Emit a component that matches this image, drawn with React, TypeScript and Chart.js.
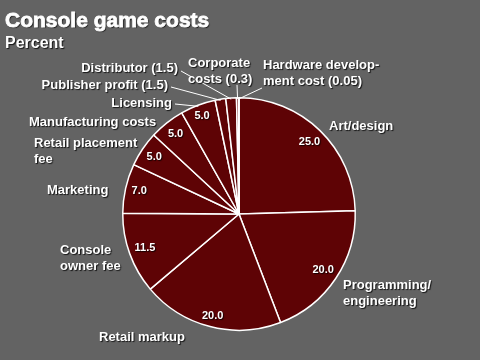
import React, { useEffect, useRef } from 'react';
import { Chart, registerables } from 'chart.js';

Chart.register(...registerables);

const chartTitle = 'Console game costs';
const chartSubtitle = 'Percent';

const categories = [
  'Art/design',
  'Programming/engineering',
  'Retail markup',
  'Console owner fee',
  'Marketing',
  'Retail placement fee',
  'Manufacturing costs',
  'Licensing',
  'Publisher profit',
  'Distributor',
  'Corporate costs',
  'Hardware development cost',
];

const values = [25, 20, 20, 11.5, 7, 5, 5, 5, 1.5, 1.5, 0.3, 0.05];

const valueLabels = ['25.0', '20.0', '20.0', '11.5', '7.0', '5.0', '5.0', '5.0', '', '', '', ''];

const outsideLabels: string[][] = [
  ['Art/design'],
  ['Programming/', 'engineering'],
  ['Retail markup'],
  ['Console', 'owner fee'],
  ['Marketing'],
  ['Retail placement', 'fee'],
  ['Manufacturing costs'],
  ['Licensing'],
  ['Publisher profit (1.5)'],
  ['Distributor (1.5)'],
  ['Corporate', 'costs (0.3)'],
  ['Hardware develop-', 'ment cost (0.05)'],
];

// label placement relative to pie centre (px); leader = start point of leader line
type LabelLayout = { dx: number; dy: number; align: CanvasTextAlign; leader?: [number, number] };
const labelLayout: LabelLayout[] = [
  { dx: 90, dy: -88, align: 'left' },
  { dx: 104, dy: 71, align: 'left' },
  { dx: -140, dy: 123, align: 'left' },
  { dx: -179, dy: 36, align: 'left' },
  { dx: -192, dy: -24, align: 'left' },
  { dx: -205, dy: -71, align: 'left' },
  { dx: -210, dy: -92, align: 'left' },
  { dx: -67, dy: -111, align: 'right', leader: [-64, -110] },
  { dx: -71, dy: -129, align: 'right', leader: [-68, -127] },
  { dx: -61, dy: -146, align: 'right', leader: [-58, -143] },
  { dx: -51, dy: -151, align: 'left', leader: [-2, -129] },
  { dx: 24, dy: -149, align: 'left', leader: [23, -126] },
];

const valueRadius = [0.87, 0.87, 0.91, 0.86, 0.88, 0.88, 0.88, 0.9, 0, 0, 0, 0];

const BG = '#636363';
const SLICE = '#5e0305';
const FONT = '"Liberation Sans", Arial, Helvetica, sans-serif';

function shadowText(ctx: CanvasRenderingContext2D) {
  ctx.shadowColor = 'rgba(0,0,0,0.8)';
  ctx.shadowOffsetX = 1;
  ctx.shadowOffsetY = 1;
  ctx.shadowBlur = 1;
}

const decorPlugin = {
  id: 'decor',
  beforeDraw(chart: any) {
    const ctx = chart.ctx as CanvasRenderingContext2D;
    ctx.save();
    ctx.fillStyle = BG;
    ctx.fillRect(0, 0, chart.width, chart.height);
    ctx.restore();
  },
  afterDatasetsDraw(chart: any) {
    const ctx = chart.ctx as CanvasRenderingContext2D;
    const meta = chart.getDatasetMeta(0);
    ctx.save();
    // title
    shadowText(ctx);
    ctx.fillStyle = '#ffffff';
    ctx.textBaseline = 'alphabetic';
    ctx.textAlign = 'left';
    ctx.font = `bold 21px ${FONT}`;
    ctx.strokeStyle = '#ffffff';
    ctx.lineWidth = 0.8;
    ctx.fillText(chartTitle, 5, 27);
    ctx.shadowColor = 'transparent';
    ctx.strokeText(chartTitle, 5, 27);
    shadowText(ctx);
    ctx.font = `bold 16px ${FONT}`;
    ctx.fillText(chartSubtitle, 5, 48);

    meta.data.forEach((arc: any, i: number) => {
      const p = arc.getProps(['x', 'y', 'startAngle', 'endAngle', 'outerRadius'], true);
      const mid = (p.startAngle + p.endAngle) / 2;
      const cx = p.x;
      const cy = p.y;
      const R = p.outerRadius;
      // value label inside
      if (valueLabels[i]) {
        const rr = R * valueRadius[i];
        ctx.font = `bold 11px ${FONT}`;
        ctx.textAlign = 'center';
        ctx.textBaseline = 'middle';
        shadowText(ctx);
        ctx.fillStyle = '#ffffff';
        ctx.fillText(valueLabels[i], cx + Math.cos(mid) * rr, cy + Math.sin(mid) * rr);
      }
      const lay = labelLayout[i];
      if (lay.leader) {
        ctx.shadowColor = 'transparent';
        ctx.strokeStyle = '#ffffff';
        ctx.lineWidth = 1;
        ctx.beginPath();
        ctx.moveTo(cx + lay.leader[0], cy + lay.leader[1]);
        ctx.lineTo(cx + Math.cos(mid) * R * 0.99, cy + Math.sin(mid) * R * 0.99);
        ctx.stroke();
      }
      shadowText(ctx);
      ctx.fillStyle = '#ffffff';
      ctx.font = `bold 13px ${FONT}`;
      ctx.textAlign = lay.align;
      ctx.textBaseline = 'middle';
      outsideLabels[i].forEach((line, j) => {
        ctx.fillText(line, cx + lay.dx, cy + lay.dy + j * 16);
      });
    });
    ctx.restore();
  },
};

export default function App() {
  const ref = useRef<HTMLCanvasElement | null>(null);
  useEffect(() => {
    document.body.style.margin = '0';
    const canvas = ref.current;
    if (!canvas) return;
    const chart = new Chart(canvas, {
      type: 'pie',
      data: {
        labels: categories,
        datasets: [
          {
            data: values,
            backgroundColor: SLICE,
            borderColor: '#ffffff',
            borderWidth: 1.5,
          },
        ],
      },
      options: {
        responsive: false,
        animation: false,
        layout: { padding: { left: 122, right: 124, top: 96, bottom: 28 } },
        plugins: {
          legend: { display: false },
          title: { display: false },
          tooltip: { enabled: false },
        },
      },
      plugins: [decorPlugin],
    });
    return () => chart.destroy();
  }, []);
  return <canvas ref={ref} width={480} height={360} style={{ display: 'block' }} />;
}
